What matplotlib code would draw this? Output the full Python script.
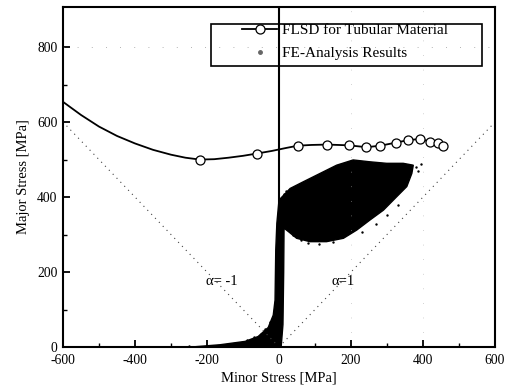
import matplotlib
matplotlib.use("Agg")
import matplotlib.pyplot as plt
from matplotlib.patches import Rectangle, Polygon
from matplotlib.lines import Line2D

plt.rcParams['font.family'] = ['Liberation Serif', 'DejaVu Serif']
plt.rcParams['axes.unicode_minus'] = False

# FLSD curve (smooth line) and marker positions
flsd_line_x = [-600, -550, -500, -450, -400, -350, -300, -260, -220, -180, -140, -100, -62, -20, 20, 52,
               90, 134, 194, 243, 281, 324, 359, 393, 419, 443, 456]
flsd_line_y = [654, 619, 588, 563, 543, 526, 513, 505, 500, 501, 505, 510, 516, 523, 531, 537,
               539, 540, 538, 533, 537, 545, 552, 555, 548, 543, 537]
flsd_mark_x = [-220, -62, 52, 134, 194, 243, 281, 324, 359, 393, 419, 443, 456]
flsd_mark_y = [500, 516, 537, 540, 538, 533, 537, 545, 552, 555, 548, 543, 537]

# FE-analysis results: outline of the dense point cloud, plus stray points
cloud_x = [-230, -164, -94, -58, -30, -16, -11, -9, -6, 0, 31, 68, 114, 160, 206, 253, 299, 345, 373,
           369, 355, 327, 290, 253, 216, 179, 132, 86, 49, 26, 14, 13, 11, 6, -230]
cloud_y = [1, 6, 15, 28, 52, 85, 125, 259, 330, 392, 423, 441, 463, 485, 499, 494, 490, 490, 485,
           463, 428, 401, 365, 339, 312, 290, 281, 281, 290, 308, 317, 200, 60, 0, 0]
fe_x = [-250, -200, -150, -120, -90, -70, -50, -40, -25, 40, 60, 80, 110, 150,
        230, 270, 300, 330, 385, 380, 395, 20, 15]
fe_y = [2, 3, 6, 11, 18, 26, 36, 48, 66, 300, 285, 277, 276, 280,
        308, 328, 352, 378, 470, 480, 488, 415, 408]

# reference lines alpha = -1 and alpha = 1
alm_x = [0, -600]
alm_y = [0, 600]
alp_x = [0, 600]
alp_y = [0, 600]

xticks = [-600, -400, -200, 0, 200, 400, 600]
yticks = [0, 200, 400, 600, 800]

fig = plt.figure(figsize=(5.11, 3.88), dpi=100)
ax = fig.add_axes([63/511, 1-347/388, 432/511, 340/388])

ax.plot(alm_x, alm_y, color='#444444', lw=0.8, ls=(0, (1, 4)))
ax.plot(alp_x, alp_y, color='#444444', lw=0.8, ls=(0, (1, 4)))
ax.axhline(800, color='#999999', lw=0.6, ls=(0, (1, 16)))
for gx in [200, 400]:
    ax.axvline(gx, color='#aaaaaa', lw=0.5, ls=(0, (1, 20)))

ax.axvline(0, color='black', lw=1.5)

poly = Polygon(list(zip(cloud_x, cloud_y)), closed=True, facecolor='black', edgecolor='black', lw=1.0)
ax.add_patch(poly)
ax.scatter(fe_x, fe_y, s=3, color='black', zorder=3, linewidths=0)

ax.plot(flsd_line_x, flsd_line_y, color='black', lw=1.3, zorder=4)
ax.plot(flsd_mark_x, flsd_mark_y, ls='none', marker='o', ms=6.5, mfc='white', mec='black', mew=0.9, zorder=5)

ax.text(-203, 174, 'α= -1', fontsize=10.5, va='center', ha='left')
ax.text(146, 174, 'α=1', fontsize=10.5, va='center', ha='left')

ax.set_xlim(-600, 600)
ax.set_ylim(0, 907)
ax.set_xticks(xticks)
ax.set_yticks(yticks)
ax.set_xticks([-500, -300, -100, 100, 300, 500], minor=True)
ax.set_yticks([100, 300, 500, 700], minor=True)
ax.tick_params(which='major', direction='in', length=5, width=1.3, labelsize=9.8)
ax.tick_params(axis='x', which='major', pad=5)
ax.tick_params(axis='y', which='major', pad=4)
ax.tick_params(which='minor', direction='in', length=3, width=1.0)
for s in ax.spines.values():
    s.set_linewidth(1.5)

ax.set_xlabel('Minor Stress [MPa]', fontsize=10.5, labelpad=3)
ax.set_ylabel('Major Stress [MPa]', fontsize=10.5, labelpad=5)

# legend
h1 = Line2D([], [], color='black', lw=1.3, marker='o', ms=6.5, mfc='white', mec='black', mew=0.9)
h2 = Line2D([], [], ls='none', marker='o', ms=2.5, color='#666666')
leg = ax.legend([h1, h2], ['FLSD for Tubular Material', 'FE-Analysis Results'],
                loc='upper left', bbox_to_anchor=((242-63)/432, (347-23.5)/340),
                frameon=False, fontsize=11, handlelength=2.3, handletextpad=0.35,
                labelspacing=0.6, borderpad=0.0, borderaxespad=0.0)
ax.add_patch(Rectangle(((210.7-63)/432, (347-66)/340), (481.7-210.7)/432, 42/340,
                       transform=ax.transAxes, fill=False, edgecolor='black', lw=1.2, zorder=6))

fig.savefig('out.png', dpi=100)
